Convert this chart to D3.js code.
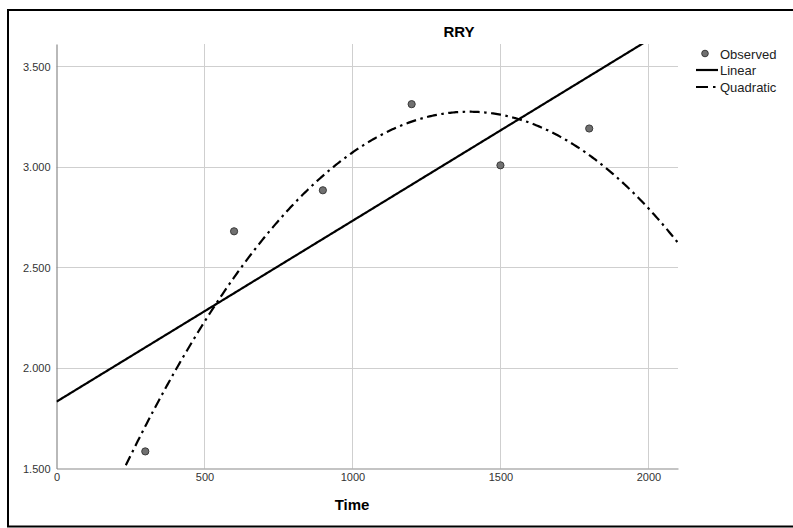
<!DOCTYPE html>
<html><head><meta charset="utf-8">
<script src="https://cdn.jsdelivr.net/npm/d3@7"></script>
<style>body{margin:0;background:#fff}svg{display:block;font-family:"Liberation Sans",Arial,sans-serif}</style>
</head><body><svg id="c" width="793" height="528"></svg>
<script>
const timeValues = [300, 600, 900, 1200, 1500, 1800];
const observedRRY = [1.585, 2.679, 2.883, 3.311, 3.007, 3.190];
const xTicks = [0, 500, 1000, 1500, 2000];
const yTicks = [1.5, 2.0, 2.5, 3.0, 3.5];
const legendLabels = ["Observed", "Linear", "Quadratic"];

// least-squares fits from the observed data
function fitLinear(xs, ys){
  const mx=d3.mean(xs), my=d3.mean(ys);
  let sxy=0,sxx=0; xs.forEach((x,i)=>{sxy+=(x-mx)*(ys[i]-my);sxx+=(x-mx)**2;});
  const b=sxy/sxx; return x=>my+b*(x-mx);
}
function fitQuad(xs, ys){
  const S=k=>d3.sum(xs,x=>x**k), T=k=>d3.sum(xs,(x,i)=>x**k*ys[i]);
  const A=[[S(0),S(1),S(2)],[S(1),S(2),S(3)],[S(2),S(3),S(4)]], B=[T(0),T(1),T(2)];
  for(let i=0;i<3;i++){for(let j=i+1;j<3;j++){const f=A[j][i]/A[i][i];for(let k=i;k<3;k++)A[j][k]-=f*A[i][k];B[j]-=f*B[i];}}
  const c=[0,0,0];for(let i=2;i>=0;i--){let s=B[i];for(let k=i+1;k<3;k++)s-=A[i][k]*c[k];c[i]=s/A[i][i];}
  return x=>c[0]+c[1]*x+c[2]*x*x;
}
const lin=fitLinear(timeValues,observedRRY), quad=fitQuad(timeValues,observedRRY);

const svg=d3.select("#c");
const L=56.5,R=678,T=44,B=468.5;
const x=d3.scaleLinear().domain([0,2100]).range([L,R]);
const y=d3.scaleLinear().domain([1.5,3.61]).range([B,T]);

// outer frame
svg.append("rect").attr("x",8).attr("y",10).attr("width",800).attr("height",516.5)
  .attr("fill","none").attr("stroke","#000").attr("stroke-width",2);

// grid
svg.append("g").selectAll("line").data(xTicks.filter(d=>d>0)).join("line")
  .attr("x1",d=>Math.round(x(d))+0.5).attr("x2",d=>Math.round(x(d))+0.5).attr("y1",T).attr("y2",B)
  .attr("stroke","#cfcfcf").attr("stroke-width",1);
svg.append("g").selectAll("line").data(yTicks.filter(d=>d>1.5)).join("line")
  .attr("y1",d=>Math.round(y(d))+0.5).attr("y2",d=>Math.round(y(d))+0.5).attr("x1",L).attr("x2",R)
  .attr("stroke","#cfcfcf").attr("stroke-width",1);

// axes
const yAxis=d3.axisLeft(y).tickValues(yTicks).tickSize(0).tickPadding(6).tickFormat(d=>d3.format(".3f")(d));
const gy=svg.append("g").attr("transform",`translate(${L},0)`).call(yAxis);
const xAxis=d3.axisBottom(x).tickValues(xTicks).tickSize(0).tickPadding(5).tickFormat(d3.format("d"));
const gx=svg.append("g").attr("transform",`translate(0,${B})`).call(xAxis);
[gx,gy].forEach(g=>{g.select(".domain").attr("stroke","#8a8a8a").attr("stroke-width",1.2);
  g.selectAll("text").attr("font-size",11).attr("fill","#333").attr("font-family","Liberation Sans, Arial, sans-serif");});
gy.selectAll("text").attr("dy","0.36em");

// clip
svg.append("clipPath").attr("id","clip").append("rect").attr("x",L).attr("y",T).attr("width",R-L).attr("height",B-T);

const xs=d3.range(0,2101,5);
const line=d3.line().x(d=>x(d[0])).y(d=>y(d[1]));
const plot=svg.append("g").attr("clip-path","url(#clip)");
plot.append("path").attr("d",line(xs.map(t=>[t,lin(t)]))).attr("fill","none").attr("stroke","#000").attr("stroke-width",2.2);
plot.append("path").attr("d",line(xs.map(t=>[t,quad(t)]))).attr("fill","none").attr("stroke","#000").attr("stroke-width",2.2)
  .attr("stroke-dasharray","10,4.5,2.5,4.5");

svg.append("g").selectAll("circle").data(timeValues).join("circle")
  .attr("cx",d=>x(d)).attr("cy",(d,i)=>y(observedRRY[i])).attr("r",3.6)
  .attr("fill","#707070").attr("stroke","#3a3a3a").attr("stroke-width",1);

// title and axis label
svg.append("text").attr("x",459).attr("y",37).attr("text-anchor","middle").attr("font-size",15).attr("font-weight","bold").text("RRY");
svg.append("text").attr("x",352).attr("y",510).attr("text-anchor","middle").attr("font-size",15).attr("font-weight","bold").text("Time");

// legend
const lg=svg.append("g").attr("font-size",13).attr("fill","#222");
lg.append("circle").attr("cx",705).attr("cy",53.5).attr("r",3.3).attr("fill","#707070").attr("stroke","#3a3a3a");
lg.append("line").attr("x1",696).attr("x2",718).attr("y1",70).attr("y2",70).attr("stroke","#000").attr("stroke-width",2.2);
lg.append("line").attr("x1",696).attr("x2",719).attr("y1",87).attr("y2",87).attr("stroke","#000").attr("stroke-width",2.2).attr("stroke-dasharray","12,5,2.5,20");
legendLabels.forEach((t,i)=>lg.append("text").attr("x",720).attr("y",54+i*16.5).attr("dy","0.35em").text(t));
</script></body></html>
